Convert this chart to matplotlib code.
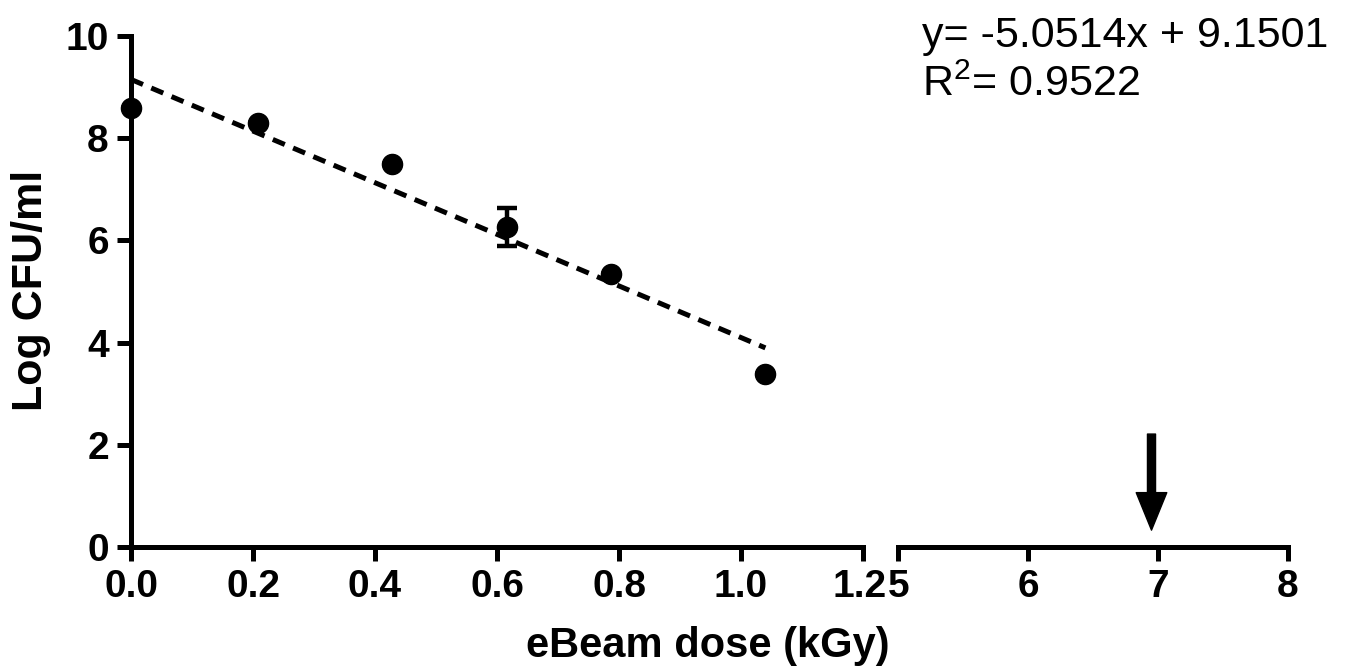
import matplotlib
matplotlib.use("Agg")
import matplotlib.pyplot as plt
import matplotlib.transforms as mtransforms
import numpy as np

# ---- data ----
dose = [0.0, 0.208, 0.428, 0.617, 0.787, 1.039]
log_cfu = [8.59, 8.30, 7.50, 6.27, 5.34, 3.39]
err = [0.0, 0.0, 0.0, 0.37, 0.0, 0.0]
slope = -5.0514
intercept = 9.1501
fit_x = [0.0, 1.04]
arrow_x = 6.95
arrow_y_top = 2.21
arrow_y_tip = 0.33
left_ticks = [0.0, 0.2, 0.4, 0.6, 0.8, 1.0, 1.2]
left_labels = ["0.0", "0.2", "0.4", "0.6", "0.8", "1.0", "1.2"]
right_ticks = [5, 6, 7, 8]
right_labels = ["5", "6", "7", "8"]
y_ticks = [0, 2, 4, 6, 8, 10]

FONT = "Liberation Sans"
plt.rcParams["font.family"] = [FONT, "DejaVu Sans"]
plt.rcParams["mathtext.fontset"] = "custom"
plt.rcParams["mathtext.rm"] = FONT
plt.rcParams["mathtext.default"] = "regular"

W, H = 1350, 668
fig = plt.figure(figsize=(W / 100, H / 100), dpi=100)

y0, y10 = 547, 36
bottom = (H - y0) / H
height = (y0 - y10) / H
ax1 = fig.add_axes([131 / W, bottom, (863 - 131) / W, height])
ax2 = fig.add_axes([898 / W, bottom, (1288 - 898) / W, height])

LW = 3.6
for ax in (ax1, ax2):
    ax.set_ylim(0, 10)
    ax.patch.set_alpha(0)
    for s in ("top", "right"):
        ax.spines[s].set_visible(False)
    ax.spines["bottom"].set_linewidth(LW)
    ax.spines["left"].set_linewidth(LW)
    ax.tick_params(axis="both", width=LW, length=10, direction="out",
                   labelsize=28, pad=6)

ax1.set_xlim(0, 1.2)
ax2.set_xlim(5, 8)
ax2.spines["left"].set_visible(False)
ax2.set_yticks([])

ax1.set_xticks(left_ticks)
ax1.set_xticklabels(left_labels, fontweight="bold")
ax1.set_yticks(y_ticks)
ax1.set_yticklabels([str(v) for v in y_ticks], fontweight="bold")
ax2.set_xticks(right_ticks)
ax2.set_xticklabels(right_labels, fontweight="bold")

# nudge the two labels at the axis break so they sit side by side
shift_left = mtransforms.ScaledTranslation(-3 / 100, 0, fig.dpi_scale_trans)
shift_right = mtransforms.ScaledTranslation(1 / 100, 0, fig.dpi_scale_trans)
lab = ax1.get_xticklabels()[-1]
lab.set_transform(lab.get_transform() + shift_left)
lab = ax2.get_xticklabels()[0]
lab.set_transform(lab.get_transform() + shift_right)

# data points with error bars
ax1.errorbar(dose, log_cfu, yerr=err, fmt="o", color="black", ms=14.5,
             elinewidth=3.2, capsize=7.5, capthick=3.2, clip_on=False, zorder=5)

# fitted line
fx = np.array(fit_x)
ax1.plot(fx, slope * fx + intercept, color="black", lw=3.6,
         dashes=(2.6, 1.8), clip_on=False, zorder=4)

# arrow
ax2.annotate("", xy=(arrow_x, arrow_y_tip), xytext=(arrow_x, arrow_y_top),
             arrowprops=dict(facecolor="black", edgecolor="black", width=5.8,
                             headwidth=22, headlength=27, shrink=0))

# labels
fig.text(31 / W, 1 - 290 / H, "Log CFU/ml", rotation=90, ha="center",
         va="center", fontsize=31, fontweight="bold")
fig.text(708 / W, 1 - 657 / H, "eBeam dose (kGy)", ha="center",
         va="baseline", fontsize=30, fontweight="bold")

# equation
fig.text(922 / W, 1 - 47 / H, "y= -5.0514x + 9.1501", ha="left",
         va="baseline", fontsize=31)
fig.text(922 / W, 1 - 96 / H, r"R$^{2}$= 0.9522", ha="left",
         va="baseline", fontsize=31)

fig.savefig("out.png", dpi=100)
